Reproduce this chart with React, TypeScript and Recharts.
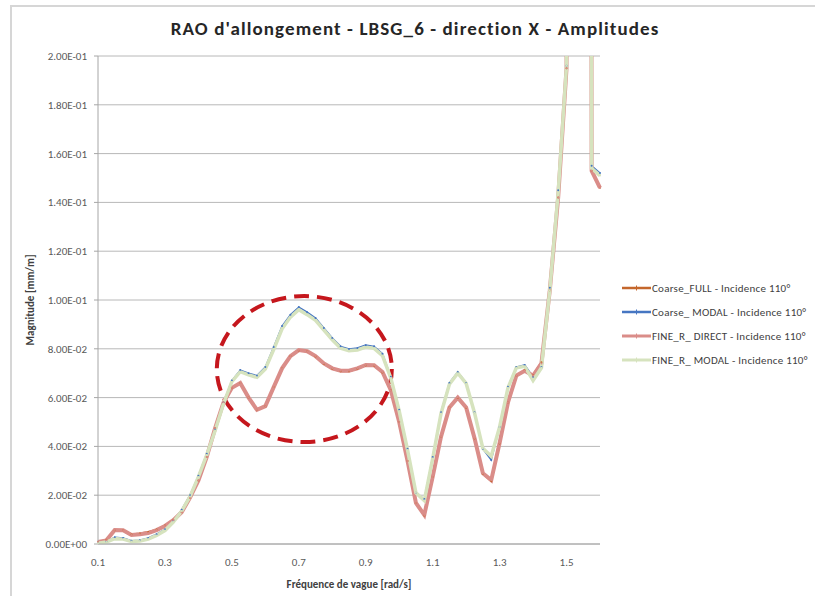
import { LineChart, Line, XAxis, YAxis, CartesianGrid, ReferenceArea } from "recharts";

// Wave frequency (rad/s), one point every 0.025
const freqs = [
  0.1, 0.125, 0.15, 0.175, 0.2, 0.225, 0.25, 0.275, 0.3, 0.325,
  0.35, 0.375, 0.4, 0.425, 0.45, 0.475, 0.5, 0.525, 0.55, 0.575,
  0.6, 0.625, 0.65, 0.675, 0.7, 0.725, 0.75, 0.775, 0.8, 0.825,
  0.85, 0.875, 0.9, 0.925, 0.95, 0.975, 1.0, 1.025, 1.05, 1.075,
  1.1, 1.125, 1.15, 1.175, 1.2, 1.225, 1.25, 1.275, 1.3, 1.325,
  1.35, 1.375, 1.4, 1.425, 1.45, 1.475, 1.5, 1.525, 1.55, 1.575, 1.6,
];

const coarseFull = [
  0.0008, 0.0017, 0.0056, 0.0056, 0.0039, 0.0043, 0.0049, 0.0059, 0.0076, 0.0099,
  0.013, 0.019, 0.026, 0.0357, 0.0475, 0.058, 0.064, 0.066, 0.06, 0.055,
  0.0565, 0.0643, 0.072, 0.077, 0.0793, 0.079, 0.0768, 0.0738, 0.0718, 0.0708,
  0.0708, 0.0718, 0.0732, 0.0731, 0.0703, 0.063, 0.05, 0.034, 0.0168, 0.0117,
  0.0275, 0.044, 0.056, 0.0598, 0.0558, 0.0432, 0.0288, 0.0258, 0.0412, 0.058,
  0.069, 0.0712, 0.0692, 0.0745, 0.104, 0.142, 0.195, 2.2, 3.0, 0.153, 0.146,
];

const coarseModal = [
  0.0005, 0.001, 0.0028, 0.0025, 0.0013, 0.0015, 0.0025, 0.004, 0.006, 0.0095,
  0.014, 0.02, 0.028, 0.037, 0.047, 0.058, 0.067, 0.0713, 0.07, 0.069,
  0.0725, 0.0807, 0.0893, 0.094, 0.0971, 0.095, 0.0926, 0.0885, 0.0844, 0.081,
  0.0799, 0.0803, 0.0815, 0.081, 0.078, 0.0685, 0.055, 0.039, 0.021, 0.0184,
  0.0357, 0.054, 0.066, 0.0705, 0.066, 0.054, 0.039, 0.0344, 0.048, 0.0644,
  0.0725, 0.0734, 0.0685, 0.0725, 0.105, 0.145, 0.196, 2.2, 3.0, 0.155, 0.152,
];

const fineDirect = [
  0.0008, 0.0015, 0.0057, 0.0056, 0.0037, 0.004, 0.0045, 0.0057, 0.0074, 0.0098,
  0.013, 0.019, 0.026, 0.0357, 0.0475, 0.058, 0.064, 0.066, 0.06, 0.055,
  0.0565, 0.0643, 0.072, 0.077, 0.0795, 0.079, 0.077, 0.074, 0.072, 0.071,
  0.071, 0.072, 0.0734, 0.0733, 0.0705, 0.063, 0.05, 0.034, 0.0168, 0.0119,
  0.0275, 0.044, 0.056, 0.06, 0.056, 0.0434, 0.029, 0.0262, 0.0414, 0.058,
  0.069, 0.071, 0.069, 0.074, 0.104, 0.142, 0.195, 2.2, 3.0, 0.153, 0.146,
];

const fineModal = [
  0.0003, 0.0008, 0.0022, 0.002, 0.001, 0.0012, 0.002, 0.0035, 0.0055, 0.009,
  0.0135, 0.0195, 0.0275, 0.0365, 0.0465, 0.0575, 0.0665, 0.0706, 0.0693, 0.0683,
  0.0717, 0.0797, 0.0882, 0.093, 0.096, 0.094, 0.0917, 0.0877, 0.0837, 0.0802,
  0.0792, 0.0795, 0.0807, 0.0802, 0.0772, 0.068, 0.0545, 0.0385, 0.021, 0.0178,
  0.035, 0.0535, 0.0655, 0.07, 0.0658, 0.0538, 0.0392, 0.036, 0.048, 0.064,
  0.0722, 0.0728, 0.067, 0.0722, 0.104, 0.144, 0.196, 2.2, 3.0, 0.154, 0.151,
];

const xTicks = [0.1, 0.3, 0.5, 0.7, 0.9, 1.1, 1.3, 1.5];
const yTicks = [0, 0.02, 0.04, 0.06, 0.08, 0.1, 0.12, 0.14, 0.16, 0.18, 0.2];

// highlighted zone (data coords): freq range and magnitude range
const zoneFreq = [0.455, 0.978];
const zoneMag = [0.0418, 0.1016];

const series = [
  { key: "coarseFull", name: "Coarse_FULL - Incidence 110°", color: "#C4672C", width: 2 },
  { key: "coarseModal", name: "Coarse_ MODAL - Incidence 110°", color: "#4676C2", width: 1.5 },
  { key: "fineDirect", name: "FINE_R_ DIRECT - Incidence 110°", color: "#DA8D89", width: 4 },
  { key: "fineModal", name: "FINE_R_ MODAL - Incidence 110°", color: "#D6E3BE", width: 3.5 },
];

const rows = freqs.map((f, i) => ({
  f,
  coarseFull: coarseFull[i],
  coarseModal: coarseModal[i],
  fineDirect: fineDirect[i],
  fineModal: fineModal[i],
}));

const FONT = 'Calibri, Carlito, Lato, "Open Sans", sans-serif';

// Excel style scientific: 2.00E-01
function sci(v: number) {
  if (v === 0) return "0.00E+00";
  const [m, e] = v.toExponential(2).split("e");
  const n = parseInt(e, 10);
  const sign = n < 0 ? "-" : "+";
  return `${m}E${sign}${String(Math.abs(n)).padStart(2, "0")}`;
}

function Ellipse(props: any) {
  const { x, y, width, height } = props;
  return (
    <ellipse
      cx={x + width / 2}
      cy={y + height / 2}
      rx={width / 2}
      ry={height / 2}
      fill="none"
      stroke="#C5171D"
      strokeWidth={4}
      strokeDasharray="15 8"
    />
  );
}

export default function App() {
  return (
    <div style={{ position: "absolute", left: 0, top: 0, width: 815, height: 596, background: "#fff", overflow: "hidden", fontFamily: FONT }}>
      <div style={{ position: "absolute", left: 10, top: 5, width: 820, height: 600, borderTop: "2px solid #D6D6D6", borderLeft: "2px solid #D6D6D6" }} />
      <div style={{ position: "absolute", left: 0, width: 830, top: 17, textAlign: "center", fontSize: 19, letterSpacing: 1.1, fontWeight: 700, color: "#262626" }}>
        RAO d'allongement - LBSG_6 - direction X - Amplitudes
      </div>
      <div style={{ position: "absolute", left: 0, top: 0 }}>
        <LineChart width={815} height={596} data={rows} margin={{ top: 56, right: 215, bottom: 22, left: 8 }}>
          <CartesianGrid vertical={false} stroke="#B8B8B8" strokeWidth={1} />
          <XAxis
            dataKey="f"
            type="number"
            domain={[0.1, 1.6]}
            ticks={xTicks}
            tickFormatter={(v: number) => v.toFixed(1)}
            tickLine={false}
            tickSize={0}
            tickMargin={14}
            height={30}
            stroke="#A6A6A6"
            tick={{ fill: "#595959", fontSize: 11, fontFamily: FONT }}
            label={{ value: "Fréquence de vague [rad/s]", position: "insideBottom", offset: -14, fill: "#404040", fontSize: 11, fontWeight: 700, fontFamily: FONT }}
          />
          <YAxis
            type="number"
            domain={[0, 0.2]}
            ticks={yTicks}
            allowDataOverflow
            tickFormatter={sci}
            width={90}
            tickSize={4}
            tickMargin={7}
            stroke="#A6A6A6"
            tick={{ fill: "#595959", fontSize: 11, fontFamily: FONT }}
            label={{ value: "Magnitude  [mm/m]", angle: -90, position: "insideLeft", offset: 22, fill: "#404040", fontSize: 11, fontWeight: 700, fontFamily: FONT, style: { textAnchor: "middle", whiteSpace: "pre" } }}
          />
          {series.map((s) => (
            <Line
              key={s.key}
              dataKey={s.key}
              name={s.name}
              type="linear"
              stroke={s.color}
              strokeWidth={s.width}
              dot={{ r: 1, fill: s.color, stroke: "none" }}
              isAnimationActive={false}
            />
          ))}
          <ReferenceArea x1={zoneFreq[0]} x2={zoneFreq[1]} y1={zoneMag[0]} y2={zoneMag[1]} shape={Ellipse} />
        </LineChart>
      </div>
      <div style={{ position: "absolute", left: 622, top: 276, width: 192, fontSize: 11, letterSpacing: 0.25, color: "#404040" }}>
        {series.map((s) => (
          <div key={s.key} style={{ display: "flex", alignItems: "center", height: 24, whiteSpace: "pre" }}>
            <svg width={29} height={10} style={{ marginRight: 1, flexShrink: 0 }}>
              <line x1={0} y1={5} x2={29} y2={5} stroke={s.color} strokeWidth={s.width > 2 ? 3 : 2.5} />
              <line x1={14.5} y1={2.5} x2={14.5} y2={7.5} stroke={s.color} strokeWidth={1} />
            </svg>
            <span>{s.name}</span>
          </div>
        ))}
      </div>
    </div>
  );
}
